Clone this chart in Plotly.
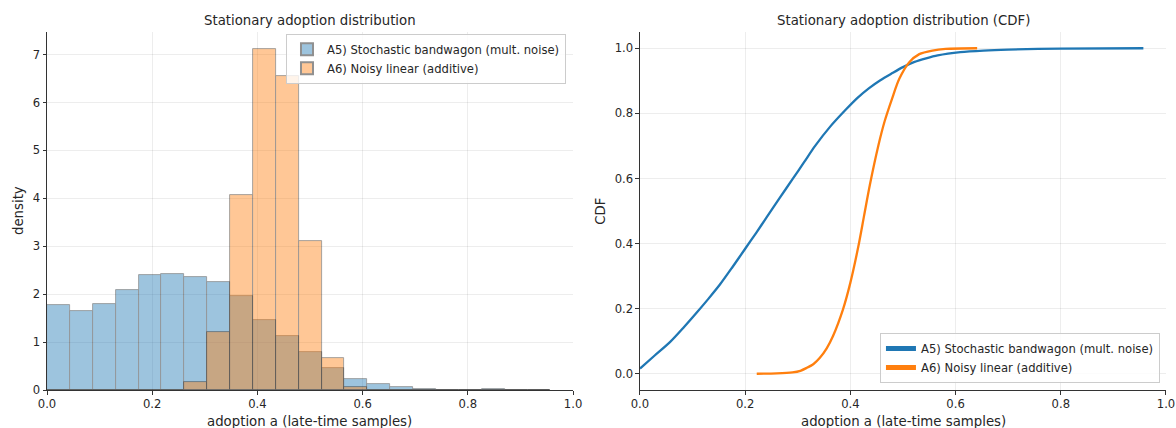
import plotly.graph_objects as go
from plotly.subplots import make_subplots

# ---- data ----
bin_edges = [0.0, 0.0435, 0.087, 0.1305, 0.174, 0.2175, 0.261, 0.3045, 0.348, 0.3915,
             0.435, 0.4785, 0.522, 0.5655, 0.609, 0.6525, 0.696, 0.7395, 0.783, 0.8265,
             0.870, 0.9135, 0.957]
a5_density = [1.78, 1.64, 1.80, 2.08, 2.40, 2.43, 2.36, 2.26, 1.97, 1.46, 1.13,
              0.80, 0.46, 0.22, 0.12, 0.055, 0.02, 0.008, 0.004, 0.012, 0.003, 0.002]
a6_density = [0.0, 0.0, 0.0, 0.0, 0.0, 0.003, 0.17, 1.21, 4.06, 7.11, 6.56,
              3.10, 0.66, 0.07, 0.005, 0.0, 0.0, 0.0, 0.0, 0.0, 0.0, 0.0]

a5_cdf_x = [0.0, 0.028, 0.057, 0.083, 0.108, 0.130, 0.152, 0.176, 0.200, 0.221, 0.241,
            0.266, 0.291, 0.312, 0.333, 0.362, 0.391, 0.413, 0.435, 0.457, 0.479, 0.500,
            0.522, 0.544, 0.566, 0.609, 0.653, 0.700, 0.800, 0.957]
a5_cdf_y = [0.016, 0.056, 0.097, 0.142, 0.188, 0.230, 0.274, 0.328, 0.384, 0.433, 0.481,
            0.541, 0.600, 0.650, 0.700, 0.760, 0.811, 0.847, 0.877, 0.902, 0.923, 0.942,
            0.958, 0.969, 0.978, 0.988, 0.993, 0.996, 0.999, 1.0]
a6_cdf_x = [0.222, 0.260, 0.290, 0.305, 0.317, 0.330, 0.342, 0.355, 0.367, 0.386, 0.400,
            0.415, 0.426, 0.437, 0.453, 0.465, 0.479, 0.493, 0.512, 0.531, 0.556, 0.581,
            0.641]
a6_cdf_y = [0.0, 0.001, 0.004, 0.009, 0.018, 0.030, 0.049, 0.078, 0.116, 0.198, 0.280,
            0.390, 0.485, 0.580, 0.700, 0.775, 0.844, 0.906, 0.957, 0.982, 0.993, 0.998,
            1.0]

name_a5 = "A5) Stochastic bandwagon (mult. noise)"
name_a6 = "A6) Noisy linear (additive)"
xlabel = "adoption a (late-time samples)"
ylabel_left = "density"
ylabel_right = "CDF"
title_left = "Stationary adoption distribution"
title_right = "Stationary adoption distribution (CDF)"

C0 = "#1f77b4"
C1 = "#ff7f0e"
ALPHA = 0.43
TXT = "#262626"

centers = [(bin_edges[i] + bin_edges[i + 1]) / 2 for i in range(len(bin_edges) - 1)]
widths = [bin_edges[i + 1] - bin_edges[i] for i in range(len(bin_edges) - 1)]

fig = make_subplots(rows=1, cols=2, horizontal_spacing=0.0598)

fig.add_trace(go.Bar(x=centers, y=a5_density, width=widths, name=name_a5,
                     marker=dict(color=C0, line=dict(color="black", width=0.8)),
                     opacity=ALPHA, legend="legend"), row=1, col=1)
fig.add_trace(go.Bar(x=centers, y=a6_density, width=widths, name=name_a6,
                     marker=dict(color=C1, line=dict(color="black", width=0.8)),
                     opacity=ALPHA, legend="legend"), row=1, col=1)

fig.add_trace(go.Scatter(x=a5_cdf_x, y=a5_cdf_y, mode="lines", name=name_a5,
                         line=dict(color=C0, width=2.3, shape="spline", smoothing=0.8),
                         legend="legend2"), row=1, col=2)
fig.add_trace(go.Scatter(x=a6_cdf_x, y=a6_cdf_y, mode="lines", name=name_a6,
                         line=dict(color=C1, width=2.3, shape="spline", smoothing=0.8),
                         legend="legend2"), row=1, col=2)

axis_common = dict(showline=True, linecolor="#333333", linewidth=1, mirror=False,
                   ticks="outside", ticklen=3.5, tickcolor="#333333", tickwidth=1,
                   showgrid=True, gridcolor="rgba(0,0,0,0.07)", gridwidth=1,
                   zeroline=False, automargin=False,
                   tickfont=dict(size=11.6, color=TXT))

fig.update_xaxes(**axis_common, range=[0, 1], dtick=0.2, tickformat=".1f")
fig.update_xaxes(domain=[0, 0.4701], row=1, col=1)
fig.update_xaxes(domain=[0.5299, 1.0], row=1, col=2)
fig.update_yaxes(**axis_common)
fig.update_yaxes(range=[0, 7.47], dtick=1, row=1, col=1)
fig.update_yaxes(range=[-0.05, 1.05], dtick=0.2, tickformat=".1f", row=1, col=2)

legend_common = dict(bgcolor="rgba(255,255,255,0.8)", bordercolor="#cccccc", borderwidth=1,
                     font=dict(size=11.6, color=TXT), tracegroupgap=0,
                     itemsizing="constant")

def label(text, x, y, xshift=0, yshift=0, angle=0, size=13.3, yanchor="middle"):
    return dict(text=text, x=x, y=y, xref="paper", yref="paper", xanchor="center",
                yanchor=yanchor, xshift=xshift, yshift=yshift, textangle=angle,
                showarrow=False, font=dict(size=size, color=TXT))

fig.update_layout(
    width=1176, height=428,
    margin=dict(l=47, r=10, t=32, b=38),
    barmode="overlay", bargap=0,
    paper_bgcolor="white", plot_bgcolor="white",
    font=dict(family="DejaVu Sans", color=TXT),
    legend=dict(**legend_common, x=0.4638, y=0.995, xanchor="right", yanchor="top"),
    legend2=dict(**legend_common, x=0.9946, y=0.0196, xanchor="right", yanchor="bottom"),
    annotations=[
        label(title_left, 0.235, 1, yshift=12),
        label(title_right, 0.765, 1, yshift=12),
        label(xlabel, 0.235, 0, yshift=-31),
        label(xlabel, 0.765, 0, yshift=-31),
        label(ylabel_left, -0.0259, 0.5, angle=-90),
        label(ylabel_right, 0.494, 0.5, angle=-90),
    ],
)

fig.write_html("out.html")
